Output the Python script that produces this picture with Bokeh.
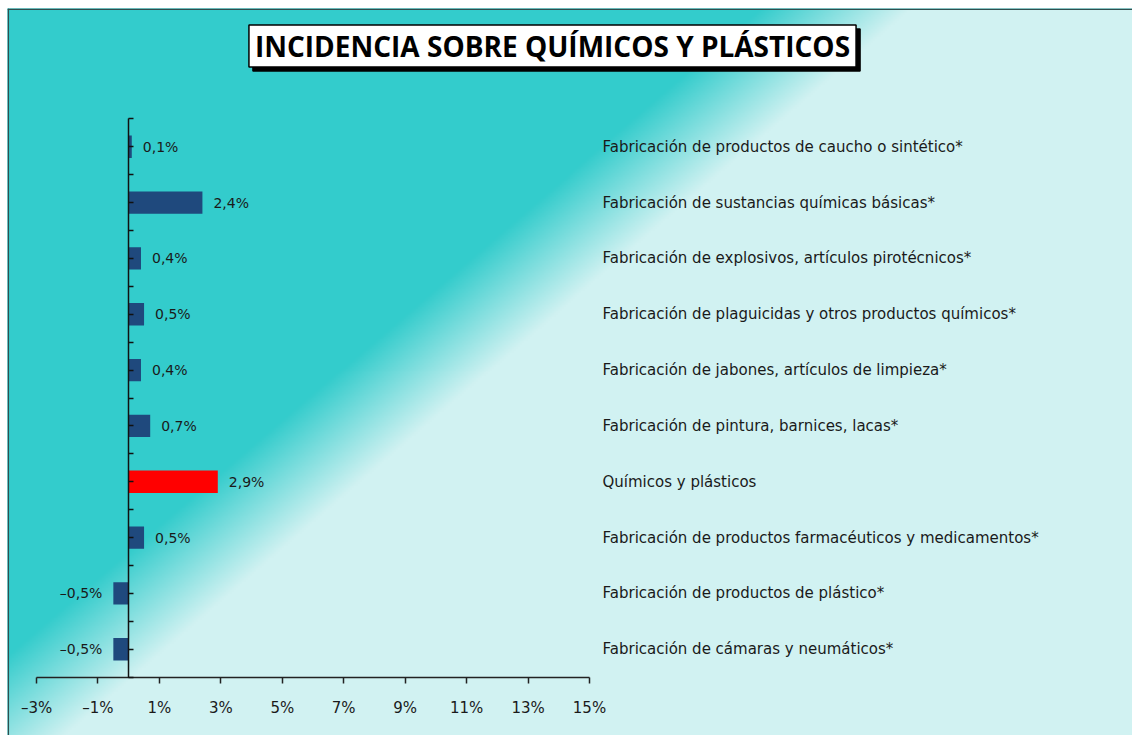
import numpy as np
from bokeh.plotting import figure
from bokeh.models import Range1d, FixedTicker, Label, ColumnDataSource, LinearAxis, Span
from bokeh.embed import file_html
from bokeh.resources import INLINE
from bokeh.core.properties import value

# ---------------- data ----------------
categories = [
    "Fabricación de productos de caucho o sintético*",
    "Fabricación de sustancias químicas básicas*",
    "Fabricación de explosivos, artículos pirotécnicos*",
    "Fabricación de plaguicidas y otros productos químicos*",
    "Fabricación de jabones, artículos de limpieza*",
    "Fabricación de pintura, barnices, lacas*",
    "Químicos y plásticos",
    "Fabricación de productos farmacéuticos y medicamentos*",
    "Fabricación de productos de plástico*",
    "Fabricación de cámaras y neumáticos*",
]
values = [0.1, 2.4, 0.4, 0.5, 0.4, 0.7, 2.9, 0.5, -0.5, -0.5]
value_labels = ["0,1%", "2,4%", "0,4%", "0,5%", "0,4%", "0,7%", "2,9%", "0,5%", "–0,5%", "–0,5%"]
highlight = "Químicos y plásticos"
x_ticks = [-3, -1, 1, 3, 5, 7, 9, 11, 13, 15]
x_tick_labels = ["–3%", "–1%", "1%", "3%", "5%", "7%", "9%", "11%", "13%", "15%"]
title = "INCIDENCIA SOBRE QUÍMICOS Y PLÁSTICOS"

# ---------------- layout / styling ----------------
WT, HT = 1132, 735       # whole figure
ML, MT = 7, 8            # white strip left / top of the chart frame
W, H = WT - ML, HT - MT  # frame size
PX = 30.72               # px per percentage point
X0 = 128.2 - ML          # frame px of x = 0
PY = 55.84               # px per category
YB = 676.7 - MT          # frame px (from top) of the x axis
x_start = -X0 / PX
x_end = (W - X0) / PX
y_start = -(H - YB) / PY
y_end = y_start + H / PY

def dx(page_px):
    return (page_px - ML - X0) / PX

def dy(page_py):
    return y_end - (page_py - MT) / PY

NAVY = "#1F497D"
RED = "#FF0000"
TEAL = np.array([51, 204, 204], dtype=float)
LIGHT = np.array([209, 242, 242], dtype=float)
TXT = "#1a1a1a"
FONT = "DejaVu Sans"

p = figure(width=WT, height=HT, x_range=Range1d(x_start, x_end), y_range=Range1d(y_start, y_end),
           min_border_left=ML, min_border_top=MT, min_border_right=0, min_border_bottom=0,
           output_backend="svg", toolbar_location=None,
           x_axis_location=None, y_axis_location=None)
p.grid.visible = False
p.background_fill_color = "#33CCCC"
p.border_fill_color = "white"
p.outline_line_color = None

# gradient background (diagonal, teal upper-left -> pale lower-right)
S = 2
nx, ny = int(np.ceil(W / S)), int(np.ceil(H / S))
cx = (np.arange(nx) + 0.5) * (W / nx) + ML
cy_rows = H - (np.arange(ny) + 0.5) * (H / ny) + MT
XX, YY = np.meshgrid(cx, cy_rows)
t = np.clip((XX + 1.165 * YY - 845.0) / 150.0 + 0.5, 0, 1)
img = np.empty((ny, nx), dtype=np.uint32)
view = img.view(dtype=np.uint8).reshape((ny, nx, 4))
for k in range(3):
    view[:, :, k] = (TEAL[k] + (LIGHT[k] - TEAL[k]) * t).astype(np.uint8)
view[:, :, 3] = 255
p.image_rgba(image=[img], x=x_start, y=y_start, dw=x_end - x_start, dh=y_end - y_start)

# chart border (top and left only are visible in the reference)
p.add_layout(Span(location=dy(MT + 0.8), dimension="width", line_color="#2f4f4f", line_width=1.5))
p.add_layout(Span(location=dx(ML + 0.8), dimension="height", line_color="#2f4f4f", line_width=1.5))

# bars
n = len(categories)
ypos = [n - i - 0.5 for i in range(n)]
colors = [RED if c == highlight else NAVY for c in categories]
src = ColumnDataSource(dict(y=ypos, v=values, color=colors, cat=categories, lbl=value_labels))
p.hbar(y="y", left=0, right="v", height=0.4, fill_color="color", line_color=None, source=src)

# value labels
pos = ColumnDataSource(dict(x=[v for v in values if v >= 0],
                            y=[y for y, v in zip(ypos, values) if v >= 0],
                            t=[l for l, v in zip(value_labels, values) if v >= 0]))
neg = ColumnDataSource(dict(x=[v for v in values if v < 0],
                            y=[y for y, v in zip(ypos, values) if v < 0],
                            t=[l for l, v in zip(value_labels, values) if v < 0]))
p.text(x="x", y="y", text="t", source=pos, x_offset=11, text_align="left", text_baseline="middle",
       text_font=value(FONT), text_font_size="14px", text_color=TXT)
p.text(x="x", y="y", text="t", source=neg, x_offset=-11, text_align="right", text_baseline="middle",
       text_font=value(FONT), text_font_size="14px", text_color=TXT)

# category labels
p.text(x=dx(602), y="y", text="cat", source=src, text_align="left", text_baseline="middle",
       text_font=value(FONT), text_font_size="15px", text_color=TXT)

# axes
xaxis = LinearAxis(fixed_location=0, bounds=(x_ticks[0], x_ticks[-1]), ticker=FixedTicker(ticks=x_ticks),
                   major_label_overrides={t_: l for t_, l in zip(x_ticks, x_tick_labels)},
                   minor_tick_line_color=None, major_tick_in=0, major_tick_out=6,
                   major_label_standoff=16, axis_line_color="#222222", axis_line_width=1.5,
                   major_tick_line_color="#222222", major_tick_line_width=1.5,
                   major_label_text_font=FONT, major_label_text_font_size="15px",
                   major_label_text_color=TXT)
p.add_layout(xaxis, "below")

yaxis = LinearAxis(fixed_location=0, bounds=(0, n), ticker=FixedTicker(ticks=list(np.arange(0, n + 0.01, 0.5))),
                   minor_tick_line_color=None, major_tick_in=5, major_tick_out=0,
                   axis_line_color="#111111", axis_line_width=1.5,
                   major_tick_line_color="#111111", major_tick_line_width=1.5,
                   major_label_text_color=None)
p.add_layout(yaxis, "left")

# title box with shadow
tx, ty = dx(552), dy(45.5)
common = dict(x=tx, y=ty, text=title, text_align="center", text_baseline="middle",
              text_font="Open Sans", text_font_size="28px", text_font_style="bold",
              padding=dict(left=6, right=6, top=2, bottom=2),
              border_line_color="black", border_line_width=1.5)
p.add_layout(Label(x_offset=4, y_offset=-4, text_color="black", background_fill_color="black", **common))
p.add_layout(Label(text_color="black", background_fill_color="white", **common))

open("out.html", "w").write(file_html(p, INLINE))
